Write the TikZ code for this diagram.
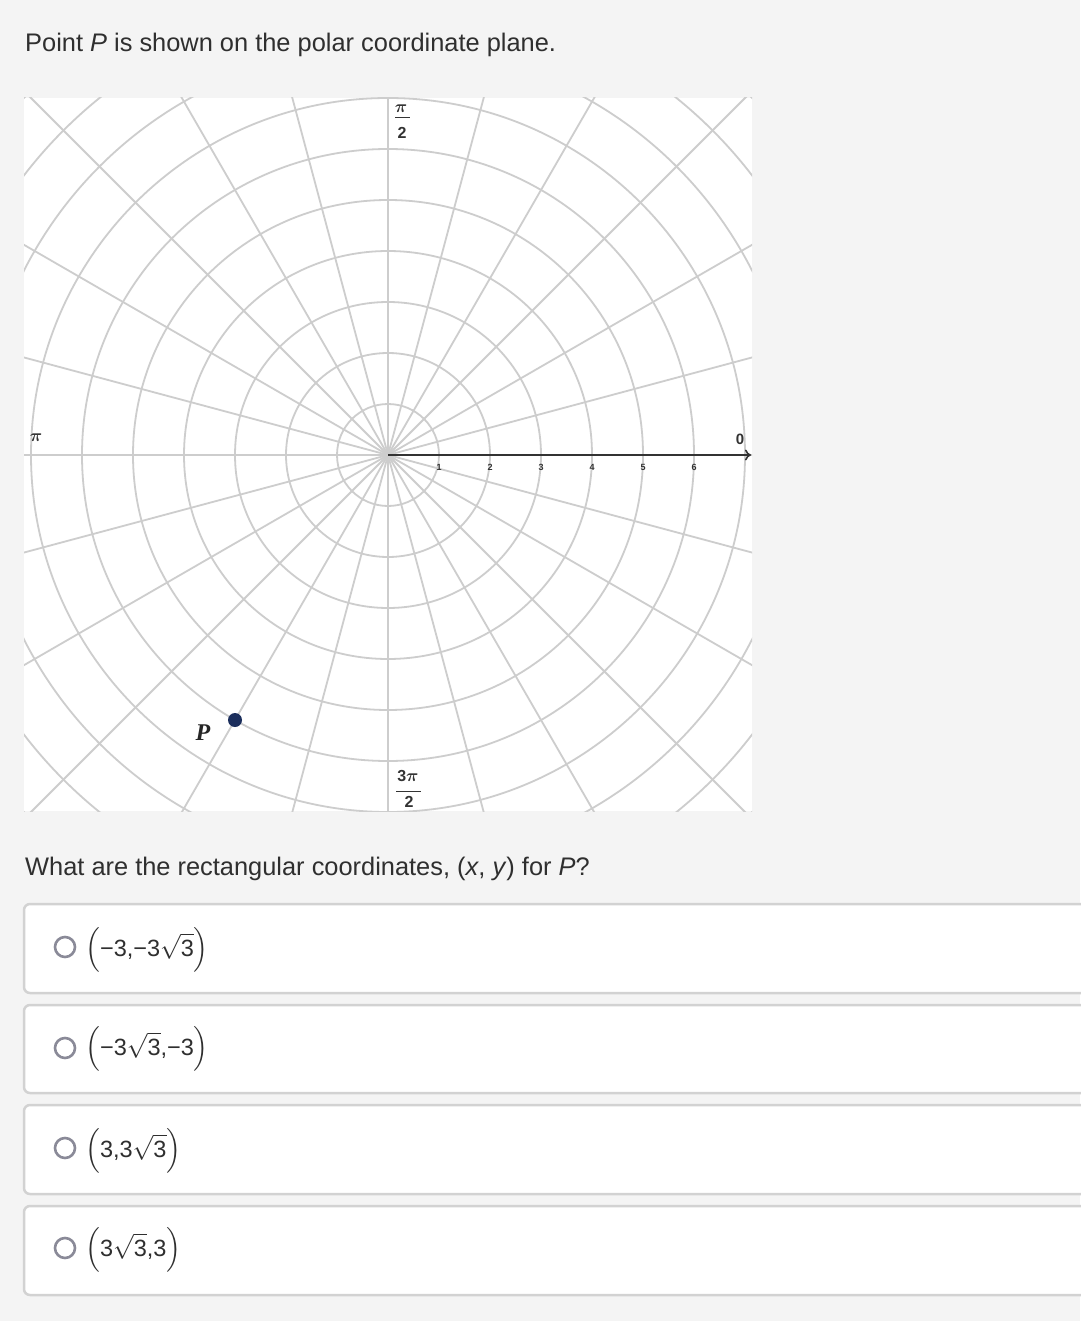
\documentclass[tikz,border=0pt]{standalone}
\usepackage{fontspec}
\usepackage{amsmath}
\setmainfont{Liberation Sans}
\newfontfamily\serifP{Liberation Serif}
\usetikzlibrary{arrows.meta}
\definecolor{bgc}{HTML}{F4F4F4}
\definecolor{gridc}{HTML}{CDCDCD}
\definecolor{axisc}{HTML}{333333}
\definecolor{txtc}{HTML}{2F2F2F}
\definecolor{boxc}{HTML}{D2D2D2}
\definecolor{radioc}{HTML}{8A8A98}
\definecolor{ptc}{HTML}{1B2E5C}
\begin{document}
\begin{tikzpicture}[x=1pt,y=-1pt,
  gridline/.style={draw=gridc,line width=1.8pt},
  axisline/.style={draw=axisc,line width=2.4pt,-{To[length=6pt,width=11pt,line width=1.6pt]}},
  ticklab/.style={font=\fontsize{9}{9}\selectfont\bfseries,text=axisc,inner sep=0pt},
  anglab/.style={font=\fontsize{16}{16}\selectfont\bfseries\boldmath,text=axisc,inner sep=0pt},
  qtext/.style={font=\fontsize{25.4}{30}\selectfont,text=txtc,anchor=base west,inner sep=0pt},
  ansbox/.style={draw=boxc,line width=2.5pt,fill=white,rounded corners=6pt},
  radio/.style={draw=radioc,line width=2.6pt,circle,minimum size=20pt,inner sep=0pt},
  anstext/.style={font=\fontsize{23.5}{28}\selectfont,text=txtc,anchor=base west,inner sep=0pt}
]
\useasboundingbox (0,0) rectangle (1080,1321);
\fill[bgc] (0,0) rectangle (1080,1321);

% question text
\node[qtext] (q1) at (25,52) {Point \textit{P} is shown on the polar coordinate plane.};

% polar grid
\coordinate (O) at (388,455);
\begin{scope}
  \clip (24,98) rectangle (752,811);
  \fill[white] (24,98) rectangle (752,811);
  \foreach \k in {1,...,10} \draw[gridline] (O) circle[radius=\k*51pt];
  \foreach \a in {0,15,...,345} \draw[gridline] (O) -- ++({650*cos(\a)},{-650*sin(\a)});
\end{scope}
\coordinate (axend) at (751,455);
\draw[axisline] (O) -- (axend);

% tick labels
\foreach \k in {1,...,6} \node[ticklab] (t\k) at ({388+51*\k},467) {\k};
\node[font=\fontsize{15}{15}\selectfont\bfseries,text=axisc,inner sep=0pt] (zero) at (740,439) {0};
\node[anglab] (pileft) at (36,438) {$\pi$};
\node[anglab] (halftop) at (401,109) {$\pi$};
\draw[axisc,line width=1pt] (395,118) -- (410,118);
\node[anglab] (halfbot) at (402,133) {2};
\node[anglab] (threetop) at (408,776) {3$\pi$};
\draw[axisc,line width=1pt] (396,791) -- (421,791);
\node[anglab] (threebot) at (409,802) {2};

% point P
\node[circle,fill=ptc,inner sep=0pt,minimum size=14pt] (P) at ({388+306*cos(240)},{455-306*sin(240)}) {};
\node[font=\fontsize{24}{24}\selectfont\serifP\bfseries\itshape,text=black!85,inner sep=0pt] (Plab) at (203,733) {P};

% question 2
\node[qtext] (q2) at (25,875) {What are the rectangular coordinates, (\textit{x}, \textit{y}) for \textit{P}?};

% answer boxes
\draw[ansbox] (24,904) rectangle (1100,993);
\draw[ansbox] (24,1005) rectangle (1100,1093);
\draw[ansbox] (24,1105) rectangle (1100,1194);
\draw[ansbox] (24,1206) rectangle (1100,1295);

\node[radio] (r1) at (65,947) {};
\node[radio] (r2) at (65,1048) {};
\node[radio] (r3) at (65,1148) {};
\node[radio] (r4) at (65,1248) {};

\node[anstext] (a1) at (85,956) {$\Bigl(\text{−3,−3}\sqrt{\text{3}}\Bigr)$};
\node[anstext] (a2) at (85,1055) {$\Bigl(\text{−3}\sqrt{\text{3}}\text{,−3}\Bigr)$};
\node[anstext] (a3) at (85,1157) {$\Bigl(\text{3,3}\sqrt{\text{3}}\Bigr)$};
\node[anstext] (a4) at (85,1256) {$\Bigl(\text{3}\sqrt{\text{3}}\text{,3}\Bigr)$};
\end{tikzpicture}
\end{document}
